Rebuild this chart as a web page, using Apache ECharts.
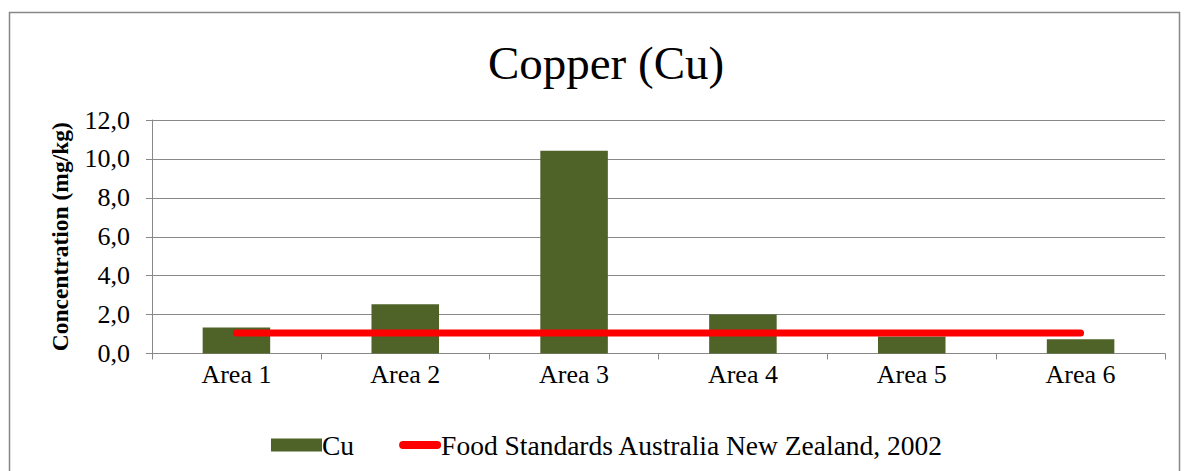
<!DOCTYPE html>
<html>
<head>
<meta charset="utf-8">
<script src="https://cdn.jsdelivr.net/npm/echarts@6/dist/echarts.min.js"></script>
<style>
html,body{margin:0;padding:0;background:#fff;}
#chart{width:1187px;height:471px;}
</style>
</head>
<body>
<div id="chart"></div>
<script>
var categories = ['Area 1', 'Area 2', 'Area 3', 'Area 4', 'Area 5', 'Area 6'];
var cuValues = [1.33, 2.53, 10.42, 2.0, 0.87, 0.73];
var standardValues = [1.05, 1.05, 1.05, 1.05, 1.05, 1.05];
var yTicks = { min: 0, max: 12, interval: 2 };
var titleText = 'Copper (Cu)';
var yName = 'Concentration (mg/kg)';
var seriesNames = ['Cu', 'Food Standards Australia New Zealand, 2002'];

var serif = 'Liberation Serif, Times New Roman, serif';
var pillIcon = 'path://M4,2.5 L38,2.5 A4,4 0 0 1 38,10.5 L4,10.5 A4,4 0 0 1 4,2.5 Z ' +
  'M0,0 L0.001,0 L0,0.001 Z M51,13 L50.999,13 L51,12.999 Z';

var chart = echarts.init(document.getElementById('chart'), null, { renderer: 'svg' });
chart.setOption({
  backgroundColor: '#fff',
  animation: false,
  title: {
    text: titleText,
    left: 601,
    textAlign: 'center',
    top: 34,
    textStyle: { fontFamily: serif, fontSize: 47, fontWeight: 'normal', color: '#000' }
  },
  graphic: [{
    type: 'rect',
    shape: { x: 9.5, y: 12.5, width: 1170, height: 480 },
    style: { fill: 'none', stroke: '#878787', lineWidth: 1.5 },
    silent: true
  }],
  legend: {
    left: 266,
    top: 426,
    itemWidth: 51,
    itemHeight: 13,
    itemGap: 45,
    textStyle: { fontFamily: serif, fontSize: 27.5, color: '#000', padding: [0, 0, 0, -5] },
    data: [
      { name: seriesNames[0], icon: 'rect' },
      { name: seriesNames[1], icon: pillIcon, itemStyle: { color: '#FF0000' },
        textStyle: { padding: [0, 0, 0, -14] } }
    ]
  },
  grid: { left: 152, right: 22, top: 120, bottom: 117.5 },
  xAxis: {
    type: 'category',
    data: categories,
    boundaryGap: true,
    axisLine: { lineStyle: { color: '#888', width: 1 } },
    axisTick: { show: true, length: 6, lineStyle: { color: '#888' } },
    axisLabel: { fontFamily: serif, fontSize: 26, color: '#000', margin: 8 }
  },
  yAxis: {
    type: 'value',
    min: yTicks.min,
    max: yTicks.max,
    interval: yTicks.interval,
    name: yName,
    nameLocation: 'middle',
    nameRotate: 90,
    nameGap: 80,
    nameTextStyle: { fontFamily: serif, fontSize: 23.5, fontWeight: 'bold', color: '#000' },
    axisLine: { show: true, lineStyle: { color: '#888', width: 1 } },
    axisTick: { show: true, length: 6, lineStyle: { color: '#888' } },
    splitLine: { lineStyle: { color: '#888', width: 1 } },
    axisLabel: {
      fontFamily: serif, fontSize: 26, color: '#000', margin: 22,
      formatter: function (v) { return v.toFixed(1).replace('.', ','); }
    }
  },
  series: [
    {
      name: seriesNames[0],
      type: 'bar',
      data: cuValues,
      barWidth: '40%',
      itemStyle: { color: '#4F6228' },
      z: 2
    },
    {
      name: seriesNames[1],
      type: 'line',
      data: standardValues,
      symbol: 'none',
      lineStyle: { color: '#FF0000', width: 7, cap: 'round' },
      itemStyle: { color: '#FF0000' },
      z: 3
    }
  ]
});
</script>
</body>
</html>
